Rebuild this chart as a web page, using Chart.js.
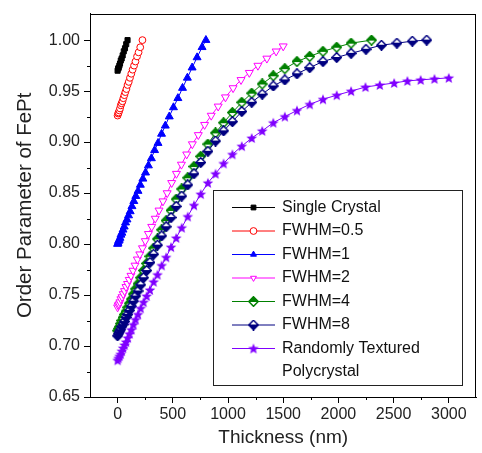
<!DOCTYPE html>
<html>
<head>
<meta charset="utf-8">
<title>Order Parameter of FePt vs Thickness</title>
<script src="https://cdn.jsdelivr.net/npm/chart.js"></script>
<style>
  html, body { margin: 0; padding: 0; background: #fff; }
</style>
</head>
<body>
<canvas id="chart" width="482" height="453"></canvas>
<script>
// Curve data: film thickness (nm) and order parameter
const seriesNames = ['Single Crystal', 'FWHM=0.5', 'FWHM=1', 'FWHM=2', 'FWHM=4', 'FWHM=8', 'Randomly Textured Polycrystal'];

const singleThick = [0, 5, 10, 16, 22, 29, 37, 46, 56, 67, 78, 90];
const singleOrder = [0.970, 0.972, 0.973, 0.975, 0.977, 0.980, 0.982, 0.985, 0.989, 0.992, 0.996, 1.000];

const fw05Thick = [0, 5, 10, 16, 22, 29, 36, 44, 52, 61, 70, 80, 90, 101, 112, 124, 136, 149, 162, 176, 190, 205, 225];
const fw05Order = [0.926, 0.928, 0.929, 0.931, 0.933, 0.936, 0.938, 0.940, 0.943, 0.946, 0.949, 0.952, 0.956, 0.959, 0.963, 0.967, 0.971, 0.975, 0.979, 0.984, 0.988, 0.993, 1.000];

const fw1Thick = [0, 4, 9, 15, 22, 30, 39, 49, 60, 72, 85, 99, 114, 130, 147, 165, 185, 206, 229, 253, 279, 306, 335, 366, 398, 432, 468, 506, 546, 588, 632, 675, 720, 765, 800];
const fw1Order = [0.800, 0.801, 0.803, 0.804, 0.806, 0.809, 0.811, 0.814, 0.817, 0.821, 0.824, 0.828, 0.832, 0.837, 0.842, 0.847, 0.852, 0.858, 0.864, 0.870, 0.877, 0.884, 0.892, 0.899, 0.908, 0.916, 0.925, 0.934, 0.943, 0.953, 0.963, 0.973, 0.983, 0.993, 1.000];

const fw2Thick = [0, 6, 13, 21, 30, 40, 51, 63, 76, 90, 105, 121, 139, 158, 179, 201, 225, 251, 279, 309, 341, 375, 411, 449, 490, 533, 578, 626, 677, 731, 788, 848, 911, 977, 1046, 1118, 1193, 1271, 1352, 1436, 1500];
const fw2Order = [0.738, 0.740, 0.741, 0.743, 0.746, 0.748, 0.751, 0.754, 0.758, 0.761, 0.765, 0.769, 0.774, 0.779, 0.785, 0.790, 0.796, 0.803, 0.810, 0.817, 0.825, 0.833, 0.842, 0.850, 0.860, 0.869, 0.878, 0.888, 0.898, 0.907, 0.917, 0.926, 0.935, 0.944, 0.953, 0.961, 0.968, 0.975, 0.982, 0.989, 0.994];

const fw4Thick = [0, 8, 17, 27, 38, 50, 63, 77, 92, 108, 125, 143, 163, 185, 209, 235, 263, 293, 326, 361, 399, 440, 484, 531, 581, 635, 692, 753, 818, 887, 960, 1040, 1125, 1215, 1310, 1410, 1515, 1625, 1740, 1860, 1985, 2115, 2300];
const fw4Order = [0.715, 0.717, 0.719, 0.722, 0.725, 0.728, 0.731, 0.734, 0.738, 0.742, 0.746, 0.751, 0.756, 0.761, 0.767, 0.774, 0.781, 0.788, 0.796, 0.805, 0.814, 0.823, 0.833, 0.844, 0.854, 0.865, 0.876, 0.886, 0.898, 0.909, 0.919, 0.929, 0.939, 0.948, 0.957, 0.965, 0.972, 0.979, 0.984, 0.989, 0.993, 0.997, 1.000];

const fw8Thick = [0, 8, 17, 27, 38, 50, 63, 77, 92, 108, 125, 143, 163, 185, 209, 235, 263, 293, 326, 361, 399, 440, 484, 531, 581, 635, 692, 753, 818, 887, 960, 1040, 1125, 1215, 1310, 1410, 1515, 1625, 1740, 1860, 1985, 2115, 2250, 2390, 2530, 2670, 2800];
const fw8Order = [0.710, 0.712, 0.714, 0.716, 0.719, 0.721, 0.724, 0.728, 0.731, 0.735, 0.739, 0.744, 0.749, 0.754, 0.760, 0.767, 0.774, 0.782, 0.790, 0.799, 0.808, 0.817, 0.826, 0.837, 0.847, 0.858, 0.869, 0.880, 0.891, 0.901, 0.911, 0.920, 0.930, 0.939, 0.947, 0.955, 0.961, 0.967, 0.973, 0.979, 0.983, 0.987, 0.991, 0.995, 0.997, 0.999, 1.000];

const polyThick = [0, 8, 17, 27, 38, 50, 63, 77, 92, 108, 125, 143, 163, 185, 209, 235, 263, 293, 326, 361, 399, 440, 484, 531, 581, 635, 692, 753, 818, 887, 960, 1040, 1125, 1215, 1310, 1410, 1515, 1625, 1740, 1860, 1985, 2115, 2245, 2375, 2505, 2625, 2745, 2870, 3000];
const polyOrder = [0.686, 0.688, 0.690, 0.692, 0.695, 0.698, 0.701, 0.704, 0.708, 0.712, 0.716, 0.721, 0.726, 0.731, 0.737, 0.743, 0.749, 0.755, 0.763, 0.770, 0.779, 0.787, 0.797, 0.806, 0.816, 0.827, 0.838, 0.849, 0.860, 0.869, 0.879, 0.888, 0.896, 0.904, 0.911, 0.919, 0.925, 0.931, 0.937, 0.942, 0.946, 0.950, 0.954, 0.956, 0.958, 0.960, 0.961, 0.962, 0.963];

const xTicks = [0, 500, 1000, 1500, 2000, 2500, 3000];
const yTicks = [0.65, 0.70, 0.75, 0.80, 0.85, 0.90, 0.95, 1.00];
const xMinor = [250, 750, 1250, 1750, 2250, 2750];
const yMinor = [0.675, 0.725, 0.775, 0.825, 0.875, 0.925, 0.975];

const FONT = 'Liberation Sans';

// half filled diamond marker
function diamondMarker(color, half) {
  const size = 11, h = size / 2;
  const c = document.createElement('canvas');
  c.width = c.height = size;
  const g = c.getContext('2d');
  g.beginPath();
  g.moveTo(h, 0.7); g.lineTo(size - 0.7, h); g.lineTo(h, size - 0.7); g.lineTo(0.7, h);
  g.closePath();
  g.fillStyle = '#fff';
  g.fill();
  g.save();
  g.clip();
  g.fillStyle = color;
  if (half === 'top') g.fillRect(0, 0, size, h + 0.5);
  else g.fillRect(0, h - 0.5, size, h + 0.5);
  g.restore();
  g.strokeStyle = color;
  g.lineWidth = 1.5;
  g.stroke();
  return c;
}

// filled five point star
function starMarker(color) {
  const size = 12, h = size / 2;
  const c = document.createElement('canvas');
  c.width = c.height = size;
  const g = c.getContext('2d');
  g.beginPath();
  for (let i = 0; i < 10; i++) {
    const r = i % 2 === 0 ? 5.6 : 2.4;
    const a = -Math.PI / 2 + i * Math.PI / 5;
    const px = h + r * Math.cos(a), py = h + 0.5 + r * Math.sin(a);
    if (i === 0) g.moveTo(px, py); else g.lineTo(px, py);
  }
  g.closePath();
  g.fillStyle = color;
  g.fill();
  return c;
}

function pts(xs, ys) {
  return xs.map((x, i) => ({ x: x, y: ys[i] }));
}

function series(i, xs, ys, color, style) {
  return Object.assign({
    label: seriesNames[i],
    data: pts(xs, ys),
    borderColor: color,
    borderWidth: 1,
    pointBorderColor: color,
    pointBackgroundColor: color,
    pointBorderWidth: 1,
    pointRadius: 3.5,
    tension: 0,
    order: 10 - i
  }, style);
}

const datasets = [
  series(0, singleThick, singleOrder, '#000000', { pointStyle: 'rect', pointRadius: 3.6 }),
  series(1, fw05Thick, fw05Order, '#ff0000', { pointStyle: 'circle', pointBackgroundColor: '#ffffff', pointRadius: 3.4 }),
  series(2, fw1Thick, fw1Order, '#0000ff', { pointStyle: 'triangle', pointRadius: 4.6 }),
  series(3, fw2Thick, fw2Order, '#ff00ff', { pointStyle: 'triangle', pointRotation: 180, pointBackgroundColor: '#ffffff', pointRadius: 4.6 }),
  series(4, fw4Thick, fw4Order, '#008000', { pointStyle: diamondMarker('#008000', 'top') }),
  series(5, fw8Thick, fw8Order, '#000080', { pointStyle: diamondMarker('#000080', 'bottom') }),
  series(6, polyThick, polyOrder, '#8000ff', { pointStyle: starMarker('#8000ff') })
];

// box around the plot plus minor ticks
const frame = {
  id: 'frame',
  afterDraw(chart) {
    const ctx = chart.ctx;
    const a = chart.chartArea;
    const xs = chart.scales.x, ys = chart.scales.y;
    ctx.save();
    ctx.strokeStyle = '#000';
    ctx.lineWidth = 1;
    ctx.strokeRect(Math.round(a.left) + 0.5, Math.round(a.top) + 0.5, Math.round(a.right - a.left) - 1, Math.round(a.bottom - a.top));
    ctx.beginPath();
    xMinor.forEach(v => {
      const px = Math.round(xs.getPixelForValue(v)) + 0.5;
      ctx.moveTo(px, a.bottom);
      ctx.lineTo(px, a.bottom + 3);
    });
    yMinor.forEach(v => {
      const py = Math.round(ys.getPixelForValue(v)) + 0.5;
      ctx.moveTo(a.left, py);
      ctx.lineTo(a.left - 3, py);
    });
    ctx.stroke();
    ctx.restore();
  }
};

// legend box inside the plot
const legendBox = {
  id: 'legendBox',
  afterDraw(chart) {
    const ctx = chart.ctx;
    ctx.save();
    ctx.fillStyle = '#fff';
    ctx.fillRect(214, 191, 248, 194);
    ctx.strokeStyle = '#222';
    ctx.lineWidth = 1;
    ctx.strokeRect(213.5, 190.5, 249, 195);
    ctx.font = '16px "' + FONT + '"';
    ctx.textBaseline = 'middle';
    chart.data.datasets.forEach((ds, i) => {
      const y = 207.5 + i * 23.5;
      ctx.strokeStyle = ds.borderColor;
      ctx.beginPath();
      ctx.moveTo(232, y);
      ctx.lineTo(275, y);
      ctx.stroke();
      ctx.fillStyle = ds.pointBackgroundColor;
      ctx.strokeStyle = ds.pointBorderColor;
      Chart.helpers.drawPoint(ctx, {
        pointStyle: ds.pointStyle,
        rotation: ds.pointRotation || 0,
        radius: Math.min(ds.pointRadius, 3.4),
        borderWidth: 1
      }, 253.5, y);
      // wrap long names onto a second line
      ctx.fillStyle = '#111';
      const words = ds.label.split(' ');
      let line = '', lines = [];
      words.forEach(w => {
        const t = line ? line + ' ' + w : w;
        if (ctx.measureText(t).width > 175 && line) { lines.push(line); line = w; }
        else line = t;
      });
      lines.push(line);
      lines.forEach((t, k) => ctx.fillText(t, 282, y + k * 23.5));
    });
    ctx.restore();
  }
};

const canvas = document.getElementById('chart');
const ctx = canvas.getContext('2d');
ctx.letterSpacing = '0.8px';

new Chart(ctx, {
  type: 'line',
  data: { datasets: datasets },
  options: {
    responsive: false,
    animation: false,
    events: [],
    layout: { padding: { left: 0, top: 6, right: 2, bottom: 0 } },
    plugins: { legend: { display: false }, tooltip: { enabled: false } },
    scales: {
      x: {
        type: 'linear',
        min: -250,
        max: 3250,
        afterBuildTicks: s => { s.ticks = xTicks.map(v => ({ value: v })); },
        afterFit: s => { s.height = 56; },
        grid: { drawOnChartArea: false, drawTicks: true, tickLength: 6, color: '#000' },
        border: { display: true, color: '#000', width: 1 },
        ticks: {
          color: '#222', padding: 2, maxRotation: 0,
          font: { family: FONT, size: 16 },
          callback: v => String(v)
        },
        title: {
          display: true, text: 'Thickness (nm)', color: '#222',
          font: { family: FONT, size: 19 },
          padding: { top: 0, bottom: 4 }
        }
      },
      y: {
        type: 'linear',
        min: 0.65,
        max: 1.026,
        afterBuildTicks: s => { s.ticks = yTicks.map(v => ({ value: v })); },
        afterFit: s => { s.width = 90; },
        grid: { drawOnChartArea: false, drawTicks: true, tickLength: 6, color: '#000' },
        border: { display: true, color: '#000', width: 1 },
        ticks: {
          color: '#222', padding: 4,
          font: { family: FONT, size: 16 },
          callback: v => v.toFixed(2)
        },
        title: {
          display: true, text: 'Order Parameter of FePt', color: '#222',
          font: { family: FONT, size: 20.5 },
          padding: { top: 13, bottom: 0 }
        }
      }
    }
  },
  plugins: [frame, legendBox]
});
</script>
</body>
</html>
